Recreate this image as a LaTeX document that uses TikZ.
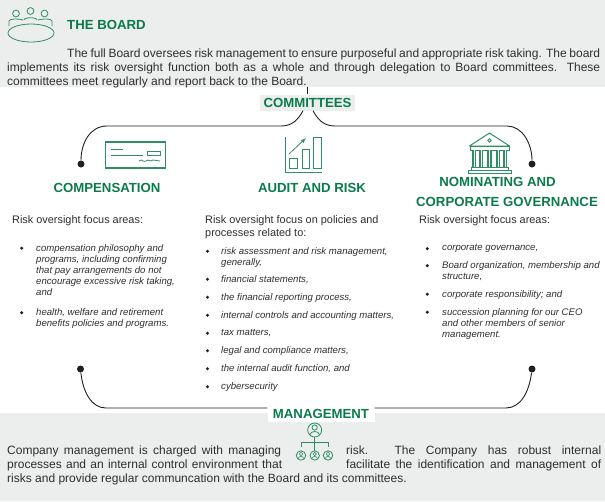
\documentclass[tikz,border=0pt]{standalone}
\usepackage{fontspec}
\setmainfont{Liberation Sans}
\usepackage{tikz}
\usetikzlibrary{positioning}
\definecolor{bandgray}{HTML}{ECEEEE}
\definecolor{headgreen}{HTML}{0B7A4B}
\definecolor{icongreen}{HTML}{2F8F63}
\definecolor{bodytext}{HTML}{2E2E2E}
\definecolor{linkblack}{HTML}{231F20}
\newcommand{\fitline}[2]{\makebox[#1pt][s]{#2}}

\begin{document}
\begin{tikzpicture}[
    x=1pt, y=-1pt,
    band/.style={rectangle, fill=bandgray, minimum width=605pt, minimum height=#1, inner sep=0pt},
    heading/.style={font=\fontsize{13.2}{15}\selectfont\bfseries, text=headgreen, inner sep=0pt},
    bodyline/.style={font=\fontsize{12}{14}\selectfont, text=bodytext, inner sep=0pt, anchor=west},
    focusline/.style={font=\fontsize{10.9}{13}\selectfont, text=bodytext, inner sep=0pt, anchor=west},
    itemtext/.style={font=\fontsize{9.6}{11}\selectfont\itshape, text=bodytext, inner sep=0pt, anchor=north west, align=left},
    bulletdot/.style={circle, fill=linkblack, inner sep=0pt, minimum size=3.4pt},
    enddot/.style={circle, fill=linkblack, inner sep=0pt, minimum size=7pt},
    link/.style={draw=linkblack, line width=0.9pt},
    icon/.style={draw=icongreen, line width=0.8pt}
]
\useasboundingbox (0,0) rectangle (605,501);

% Bands
\node[band=87pt, anchor=north west] (boardband) at (0,0) {};
\node[band=88pt, anchor=north west] (mgmtband) at (0,413) {};

% Board text
\node[heading, anchor=west] (boardtitle) at (67,24.5) {THE BOARD};
\node[bodyline] (boardA) at (67,54) {\fitline{533}{The full Board oversees risk management to ensure purposeful and appropriate risk taking. The board}};
\node[bodyline] (boardB) at (7,68) {\fitline{593}{implements its risk oversight function both as a whole and through delegation to Board committees. These}};
\node[bodyline] (boardC) at (7,82) {committees meet regularly and report back to the Board.};

% Labels on the link lines
\node[heading, fill=bandgray, minimum width=95pt, minimum height=16pt] (committees) at (307.5,102.5) {COMMITTEES};
\node[heading, fill=white, minimum width=107pt, minimum height=15pt] (management) at (321,414) {MANAGEMENT};

% Column headings
\node[heading] (comphead) at (107,188) {COMPENSATION};
\node[heading] (audithead) at (312,188) {AUDIT AND RISK};
\node[heading] (nomheadA) at (497.5,182) {NOMINATING AND};
\node[heading] (nomheadB) at (507,202) {CORPORATE GOVERNANCE};

% Link ends
\node[enddot] (comptop) at (81,164) {};
\node[enddot] (nomtop) at (532,164) {};
\node[enddot] (compbot) at (80.5,369) {};
\node[enddot] (nombot) at (532,369) {};

% Links
\draw[link] (committees.north) -- (committees.north |- boardband.south);
\draw[link] ([xshift=-4.5pt]committees.south) .. controls (298,120) and (292,126) .. (281,126) -- (107,126) .. controls (90,126) and (81,143) .. (comptop);
\draw[link] ([xshift=5.5pt]committees.south) .. controls (318,120) and (324,126) .. (335,126) -- (507,126) .. controls (522,126) and (532,143) .. (nomtop);
\draw[link] (compbot) .. controls (83,393) and (92,408) .. (106,408) -- (management.west |- 0,408);
\draw[link] (nombot) .. controls (529,393) and (520,408) .. (506,408) -- (management.east |- 0,408);

% Compensation column
\node[focusline] (compfocus) at (12,220.5) {Risk oversight focus areas:};
\foreach \name/\ytop/\txt in {compA/244/{compensation philosophy and\\programs, including confirming\\that pay arrangements do not\\encourage excessive risk taking,\\and}, compB/308.5/{health, welfare and retirement\\benefits policies and programs.}}{
    \node[itemtext] (\name) at (36,\ytop) {\txt};
    \node[bulletdot] at (21.7,\ytop+4.2) {};
}

% Audit column
\node[focusline] (auditfocusA) at (205,220.5) {Risk oversight focus on policies and};
\node[focusline] (auditfocusB) at (205,233.5) {processes related to:};
\foreach \name/\ytop/\txt in {auditA/247/{risk assessment and risk management,\\generally,}, auditB/275/{financial statements,}, auditC/293/{the financial reporting process,}, auditD/311/{internal controls and accounting matters,}, auditE/329/{tax matters,}, auditF/346.5/{legal and compliance matters,}, auditG/364.5/{the internal audit function, and}, auditH/382.5/{cybersecurity}}{
    \node[itemtext] (\name) at (221,\ytop) {\txt};
    \node[bulletdot] at (207.5,\ytop+4.2) {};
}

% Nominating column
\node[focusline] (nomfocus) at (419,220.5) {Risk oversight focus areas:};
\foreach \name/\ytop/\txt in {nomA/244.5/{corporate governance,}, nomB/261.5/{Board organization, membership and\\structure,}, nomC/290/{corporate responsibility; and}, nomD/308/{succession planning for our CEO\\and other members of senior\\management.}}{
    \node[itemtext] (\name) at (442,\ytop) {\txt};
    \node[bulletdot] at (427.3,\ytop+4.2) {};
}

% Management text
\node[bodyline] (mgmtA) at (7,451) {\fitline{274}{Company management is charged with managing}};
\node[bodyline] (mgmtB) at (7,465) {\fitline{275}{processes and an internal control environment that}};
\node[bodyline] (mgmtC) at (7,479) {risks and provide regular communcation with the Board and its committees.};
\node[bodyline] (mgmtD) at (346,451) {\fitline{255}{risk. The Company has robust internal}};
\node[bodyline] (mgmtE) at (346,465) {\fitline{255}{facilitate the identification and management of}};

% Board icon
\foreach \x/\y in {16/13.5, 30.5/11, 44.5/13.5}
    \draw[icon] (\x,\y) circle (3.4);
\draw[icon] (9,26) -- (9,21) .. controls (9,18.5) and (19,18.5) .. (23,20);
\draw[icon] (24,20) .. controls (24,17) and (37,17) .. (37,20);
\draw[icon] (38,20) .. controls (42,18.5) and (52,18.5) .. (52,21) -- (52,26);
\draw[icon] (31,33) ellipse (23 and 9);

% Cheque icon
\draw[icon, line width=1.1pt] (105.5,142) rectangle (165.5,168);
\draw[icon] (111,149) -- (123,149) (111,155) -- (143,155);
\draw[icon] (147,151.5) rectangle (160,155);
\draw[icon] (139,161) .. controls (142,158) and (143,163) .. (146,161) .. controls (149,158) and (150,163) .. (153,160) -- (160,161);

% Chart icon
\draw[icon] (285.5,137) -- (285.5,172) -- (322,172);
\draw[icon, line width=1pt] (289.5,158) rectangle (297,168);
\draw[icon, line width=1pt] (302,149) rectangle (309,168);
\draw[icon, line width=1pt] (313.5,137) rectangle (321,168);
\draw[icon, ->, >=latex] (289,154) -- (306,138);

% Bank icon
\draw[icon, line width=1pt, line join=round] (469.5,146) -- (489.5,133) -- (509.5,146) -- cycle;
\draw[icon] (489.5,140.5) circle (1.8);
\draw[icon, line width=1pt] (470,146) rectangle (509,150);
\foreach \x in {474,481,489.5,498,505}
    \draw[icon, line width=1.8pt, double=white, double distance=0.6pt, draw=icongreen] (\x,150) -- (\x,167);
\draw[icon, line width=1pt] (471,167) rectangle (508,170);
\draw[icon, line width=1pt] (468,170) rectangle (511,173);

% Management icon
\draw[icon] (314.7,430) circle (7);
\draw[icon] (314.7,427.5) circle (2.6);
\draw[icon] (310,434.5) .. controls (311,430.5) and (318.5,430.5) .. (319.5,434.5);
\draw[icon] (314.7,437) -- (314.7,451);
\draw[icon] (301,447) -- (301,442) -- (328,442) -- (328,447);
\foreach \x in {301,314.7,328}{
    \draw[icon] (\x,455.5) circle (4.7);
    \draw[icon, line width=0.6pt] (\x,454) circle (1.7);
    \draw[icon, line width=0.6pt] (\x-2.8,458.5) .. controls (\x-2,455.8) and (\x+2,455.8) .. (\x+2.8,458.5);
}
\end{tikzpicture}
\end{document}
